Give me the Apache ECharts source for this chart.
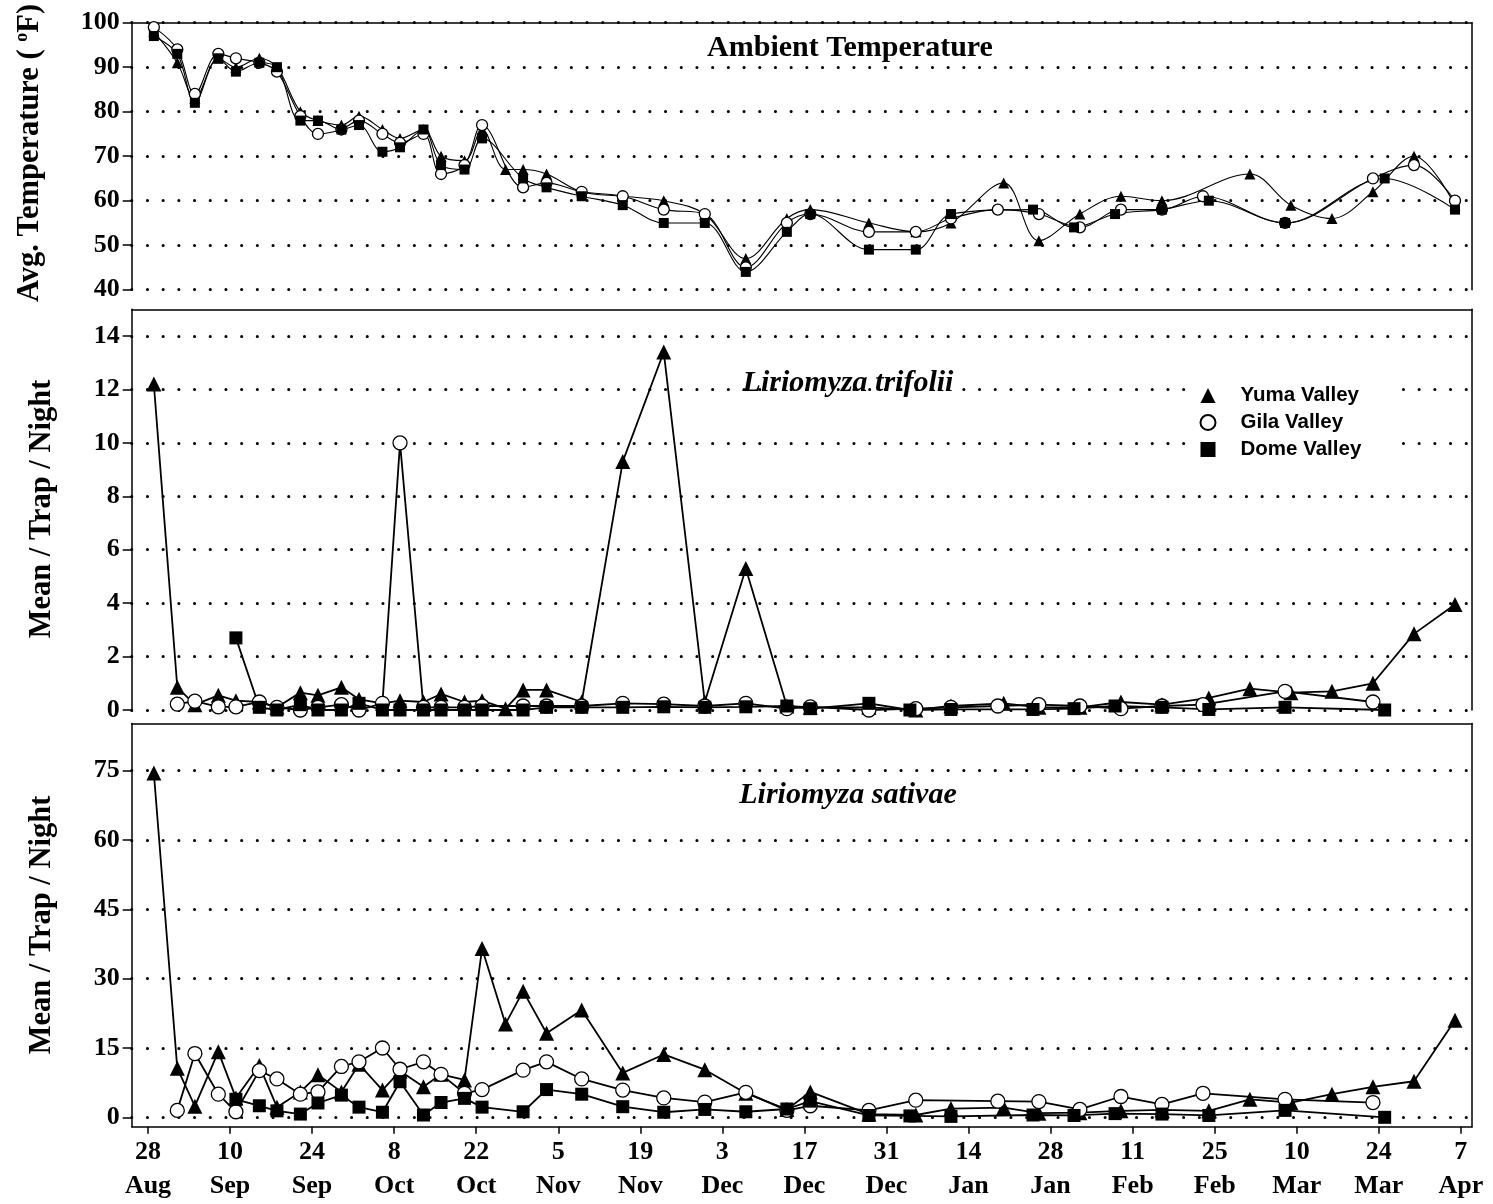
<!DOCTYPE html>
<html>
<head>
<meta charset="utf-8">
<title>Leafminer trap catches and ambient temperature</title>
<script src="https://cdn.jsdelivr.net/npm/echarts/dist/echarts.min.js"></script>
<style>
    html, body { margin: 0; padding: 0; background: #fff; }
    #chart { width: 1493px; height: 1204px; }
</style>
</head>
<body>
<div id="chart"></div>
<script>
// ============================================
// Data (x = days after 28 Aug, two-week ticks)
// ============================================
const xTickDays = [0, 14, 28, 42, 56, 70, 84, 98, 112, 126, 140, 154, 168, 182, 196, 210, 224];
const xTickLabels = ['28\nAug', '10\nSep', '24\nSep', '8\nOct', '22\nOct', '5\nNov', '19\nNov', '3\nDec',
    '17\nDec', '31\nDec', '14\nJan', '28\nJan', '11\nFeb', '25\nFeb', '10\nMar', '24\nMar', '7\nApr'];

const tempTicks = [40, 50, 60, 70, 80, 90, 100];
const trifoliiTicks = [0, 2, 4, 6, 8, 10, 12, 14];
const sativaeTicks = [0, 15, 30, 45, 60, 75];

// Ambient temperature (°F)
const tempYuma = [[1, 98], [5, 91], [8, 83], [12, 92], [15, 90], [19, 92], [22, 90], [26, 80], [29, 78], [33, 77],
    [36, 79], [40, 76], [43, 74], [47, 76], [50, 70], [54, 69], [57, 76], [61, 67], [64, 67], [68, 66], [74, 62],
    [81, 61], [88, 60], [95, 57], [102, 47], [109, 56], [113, 58], [123, 55], [131, 53], [137, 55], [146, 64],
    [152, 51], [159, 57], [166, 61], [173, 60], [188, 66], [195, 59], [202, 56], [209, 62], [216, 70], [223, 59]];
const tempGila = [[1, 99], [5, 94], [8, 84], [12, 93], [15, 92], [19, 91], [22, 89], [26, 79], [29, 75], [33, 76],
    [36, 78], [40, 75], [43, 73], [47, 75], [50, 66], [54, 68], [57, 77], [64, 63], [68, 64], [74, 62], [81, 61],
    [88, 58], [95, 57], [102, 45], [109, 55], [113, 57], [123, 53], [131, 53], [137, 56], [145, 58], [152, 57],
    [159, 54], [166, 58], [173, 58], [180, 61], [194, 55], [209, 65], [216, 68], [223, 60]];
const tempDome = [[1, 97], [5, 93], [8, 82], [12, 92], [15, 89], [19, 91], [22, 90], [26, 78], [29, 78], [33, 76],
    [36, 77], [40, 71], [43, 72], [47, 76], [50, 68], [54, 67], [57, 74], [64, 65], [68, 63], [74, 61], [81, 59],
    [88, 55], [95, 55], [102, 44], [109, 53], [113, 57], [123, 49], [131, 49], [137, 57], [151, 58], [158, 54],
    [165, 57], [173, 58], [181, 60], [194, 55], [211, 65], [223, 58]];

// Liriomyza trifolii (mean / trap / night)
const trifoliiYuma = [[1, 12.2], [5, 0.85], [8, 0.2], [12, 0.55], [15, 0.35], [19, 0.3], [22, 0.1], [26, 0.65],
    [29, 0.55], [33, 0.85], [36, 0.4], [40, 0.25], [43, 0.35], [47, 0.3], [50, 0.6], [54, 0.3], [57, 0.35],
    [61, 0.05], [64, 0.75], [68, 0.75], [74, 0.3], [81, 9.3], [88, 13.4], [95, 0.3], [102, 5.3], [109, 0.15],
    [113, 0.1], [123, 0.1], [131, 0.0], [137, 0.15], [146, 0.25], [152, 0.1], [159, 0.1], [166, 0.3], [173, 0.2],
    [181, 0.45], [188, 0.8], [195, 0.65], [202, 0.7], [209, 1.0], [216, 2.85], [223, 3.95]];
const trifoliiGila = [[5, 0.22], [8, 0.33], [12, 0.12], [15, 0.12], [19, 0.3], [22, 0.1], [26, 0.0], [29, 0.1],
    [33, 0.2], [36, 0.0], [40, 0.25], [43, 10.0], [47, 0.1], [50, 0.1], [54, 0.1], [57, 0.15], [64, 0.15],
    [68, 0.15], [74, 0.15], [81, 0.25], [88, 0.22], [95, 0.15], [102, 0.25], [109, 0.05], [113, 0.12], [123, 0.0],
    [131, 0.05], [137, 0.1], [145, 0.15], [152, 0.2], [159, 0.15], [166, 0.05], [173, 0.15], [180, 0.2],
    [194, 0.7], [209, 0.3]];
const trifoliiDome = [[15, 2.7], [19, 0.1], [22, 0.0], [26, 0.2], [29, 0.0], [33, 0.0], [36, 0.25], [40, 0.0],
    [43, 0.0], [47, 0.0], [50, 0.0], [54, 0.0], [57, 0.0], [64, 0.0], [68, 0.1], [74, 0.1], [81, 0.1], [88, 0.12],
    [95, 0.1], [102, 0.12], [109, 0.15], [113, 0.05], [123, 0.25], [130, 0.0], [137, 0.02], [151, 0.02],
    [158, 0.05], [165, 0.15], [173, 0.1], [181, 0.02], [194, 0.1], [211, 0.0]];

// Liriomyza sativae (mean / trap / night)
const sativaeYuma = [[1, 74.5], [5, 10.6], [8, 2.4], [12, 14.2], [15, 4.2], [19, 11.2], [22, 2.2], [26, 5.5],
    [29, 9.2], [33, 5.5], [36, 11.5], [40, 5.9], [43, 10.0], [47, 6.6], [50, 9.3], [54, 8.1], [57, 36.5],
    [61, 20.2], [64, 27.3], [68, 18.2], [74, 23.2], [81, 9.6], [88, 13.6], [95, 10.3], [102, 5.2], [109, 1.7],
    [113, 5.5], [123, 0.7], [131, 0.5], [137, 1.9], [146, 2.1], [152, 0.9], [159, 1.0], [166, 1.4], [173, 1.6],
    [181, 1.4], [188, 3.9], [195, 3.2], [202, 5.0], [209, 6.6], [216, 7.8], [223, 21.0]];
const sativaeGila = [[5, 1.5], [8, 13.8], [12, 5.0], [15, 1.2], [19, 10.1], [22, 8.3], [26, 5.0], [29, 5.5],
    [33, 11.0], [36, 12.0], [40, 15.0], [43, 10.4], [47, 12.0], [50, 9.3], [54, 5.2], [57, 6.0], [64, 10.2],
    [68, 12.0], [74, 8.3], [81, 5.9], [88, 4.2], [95, 3.3], [102, 5.4], [109, 1.5], [113, 2.5], [123, 1.5],
    [131, 3.7], [145, 3.5], [152, 3.4], [159, 1.7], [166, 4.5], [173, 2.8], [180, 5.2], [194, 3.9], [209, 3.2]];
const sativaeDome = [[15, 3.9], [19, 2.5], [22, 1.4], [26, 0.7], [29, 3.1], [33, 4.8], [36, 2.2], [40, 1.1],
    [43, 7.7], [47, 0.5], [50, 3.2], [54, 4.1], [57, 2.2], [64, 1.2], [68, 6.0], [74, 5.0], [81, 2.3], [88, 1.1],
    [95, 1.7], [102, 1.2], [109, 1.8], [113, 3.5], [123, 0.4], [130, 0.3], [137, 0.2], [151, 0.5], [158, 0.4],
    [165, 0.8], [173, 0.7], [181, 0.4], [194, 1.5], [211, 0.0]];

// ============================================
// Styles
// ============================================
const SERIF = 'Liberation Serif';
const SANS = 'Liberation Sans';
const LINE = { color: '#000', width: 1.5 };
const DOTS = { color: '#000', width: 3, type: [0.1, 15.6], cap: 'round' };

const MARKERS = {
    'Yuma Valley': { symbol: 'triangle', itemStyle: { color: '#000' } },
    'Gila Valley': { symbol: 'circle', itemStyle: { color: '#fff', borderColor: '#000', borderWidth: 1.3 } },
    'Dome Valley': { symbol: 'rect', itemStyle: { color: '#000' } }
};
const SIZES_SMALL = { 'Yuma Valley': 11, 'Gila Valley': 11, 'Dome Valley': 10 };
const SIZES_BIG = { 'Yuma Valley': 15, 'Gila Valley': 14, 'Dome Valley': 13 };

const X_MIN = -2.78;
const X_MAX = 225.9;
const GRID_LEFT = 131.7;
const GRID_RIGHT = 21;

function makeSeries(name, data, idx, smooth) {
    const sizes = idx === 0 ? SIZES_SMALL : SIZES_BIG;
    return {
        name: name,
        type: 'line',
        xAxisIndex: idx,
        yAxisIndex: idx,
        data: data,
        smooth: smooth ? 0.35 : false,
        symbol: MARKERS[name].symbol,
        symbolSize: sizes[name],
        showAllSymbol: true,
        itemStyle: MARKERS[name].itemStyle,
        lineStyle: { color: '#000', width: idx === 0 ? 1.1 : 1.8 },
        emphasis: { disabled: true },
        z: 3
    };
}

function leftAxis(gridIndex, min, max, ticks) {
    return {
        type: 'value', gridIndex: gridIndex, position: 'left', min: min, max: max,
        axisLine: { show: true, onZero: false, lineStyle: LINE },
        axisTick: { show: true, length: 9, lineStyle: LINE, customValues: ticks },
        axisLabel: {
            customValues: ticks, margin: 12, color: '#000',
            fontFamily: SERIF, fontWeight: 'bold', fontSize: 26
        },
        splitLine: { show: true, lineStyle: DOTS }
    };
}

function rightAxis(gridIndex, min, max) {
    return {
        type: 'value', gridIndex: gridIndex, position: 'right', min: min, max: max,
        axisLine: { show: true, onZero: false, lineStyle: LINE },
        axisTick: { show: false }, axisLabel: { show: false }, splitLine: { show: false }
    };
}

function topLine(gridIndex) {
    return {
        type: 'value', gridIndex: gridIndex, position: 'top', min: X_MIN, max: X_MAX,
        axisLine: { show: true, onZero: false, lineStyle: LINE },
        axisTick: { show: false }, axisLabel: { show: false }, splitLine: { show: false }
    };
}

function nameText(text, x, y) {
    return {
        type: 'text', x: x, y: y, rotation: Math.PI / 2, z: 5,
        style: {
            text: text, fill: '#000', align: 'center', verticalAlign: 'middle',
            fontFamily: SERIF, fontWeight: 'bold', fontSize: 30.5,
            rich: {
                sup: { fontFamily: SERIF, fontWeight: 'bold', fontSize: 18, padding: [0, 0, 16, 0] }
            }
        }
    };
}

function titleText(text, x, y, italic) {
    return {
        type: 'text', x: x, y: y, z: 5,
        style: {
            text: text, fill: '#000', align: 'center', verticalAlign: 'middle',
            fontFamily: SERIF, fontWeight: 'bold', fontStyle: italic ? 'italic' : 'normal', fontSize: 30
        }
    };
}

// ============================================
// Chart
// ============================================
function init() {
    const chart = echarts.init(document.getElementById('chart'), null, { renderer: 'canvas' });

    const option = {
        animation: false,
        backgroundColor: '#fff',
        grid: [
            { left: GRID_LEFT, right: GRID_RIGHT, top: 22.7, height: 267 },
            { left: GRID_LEFT, right: GRID_RIGHT, top: 309.3, height: 400.7 },
            { left: GRID_LEFT, right: GRID_RIGHT, top: 723.5, height: 403.2 }
        ],
        xAxis: [
            topLine(0),
            topLine(1),
            {
                type: 'value', gridIndex: 2, position: 'bottom', min: X_MIN, max: X_MAX,
                axisLine: { show: true, onZero: false, lineStyle: LINE },
                axisTick: { show: true, length: 7, lineStyle: LINE, customValues: xTickDays },
                axisLabel: {
                    customValues: xTickDays, margin: 9, color: '#000', lineHeight: 34,
                    fontFamily: SERIF, fontWeight: 'bold', fontSize: 26,
                    formatter: v => xTickLabels[xTickDays.indexOf(Math.round(v))] || ''
                },
                splitLine: { show: false }
            },
            topLine(2)
        ],
        yAxis: [
            leftAxis(0, 40, 100, tempTicks),
            leftAxis(1, 0, 15, trifoliiTicks),
            leftAxis(2, -2.03, 85.2, sativaeTicks),
            rightAxis(0, 40, 100),
            rightAxis(1, 0, 15),
            rightAxis(2, -2.03, 85.2)
        ],
        legend: {
            data: [
                { name: 'Yuma Valley', icon: 'triangle' },
                { name: 'Gila Valley', icon: 'circle' },
                { name: 'Dome Valley', icon: 'rect' }
            ],
            orient: 'vertical',
            left: 1189.5,
            top: 381,
            itemWidth: 15,
            itemHeight: 15,
            itemGap: 6,
            padding: [4, 40, 4, 10],
            backgroundColor: '#fff',
            selectedMode: false,
            textStyle: {
                fontFamily: SANS, fontWeight: 'bold', fontSize: 20.5, color: '#000',
                padding: [0, 0, 0, 20]
            },
            z: 10
        },
        graphic: [
            titleText('Ambient Temperature', 850, 48, false),
            titleText('Liriomyza trifolii', 848, 383, true),
            titleText('Liriomyza sativae', 848, 795, true),
            nameText('Avg. Temperature ( {sup|o}F)', 30, 153),
            nameText('Mean / Trap / Night', 42, 509),
            nameText('Mean / Trap / Night', 42, 925)
        ],
        series: [
            makeSeries('Yuma Valley', tempYuma, 0, true),
            makeSeries('Gila Valley', tempGila, 0, true),
            makeSeries('Dome Valley', tempDome, 0, true),
            makeSeries('Yuma Valley', trifoliiYuma, 1, false),
            makeSeries('Gila Valley', trifoliiGila, 1, false),
            makeSeries('Dome Valley', trifoliiDome, 1, false),
            makeSeries('Yuma Valley', sativaeYuma, 2, false),
            makeSeries('Gila Valley', sativaeGila, 2, false),
            makeSeries('Dome Valley', sativaeDome, 2, false)
        ]
    };

    chart.setOption(option);
    window.addEventListener('resize', () => chart.resize());
}

document.addEventListener('DOMContentLoaded', init);
</script>
</body>
</html>
